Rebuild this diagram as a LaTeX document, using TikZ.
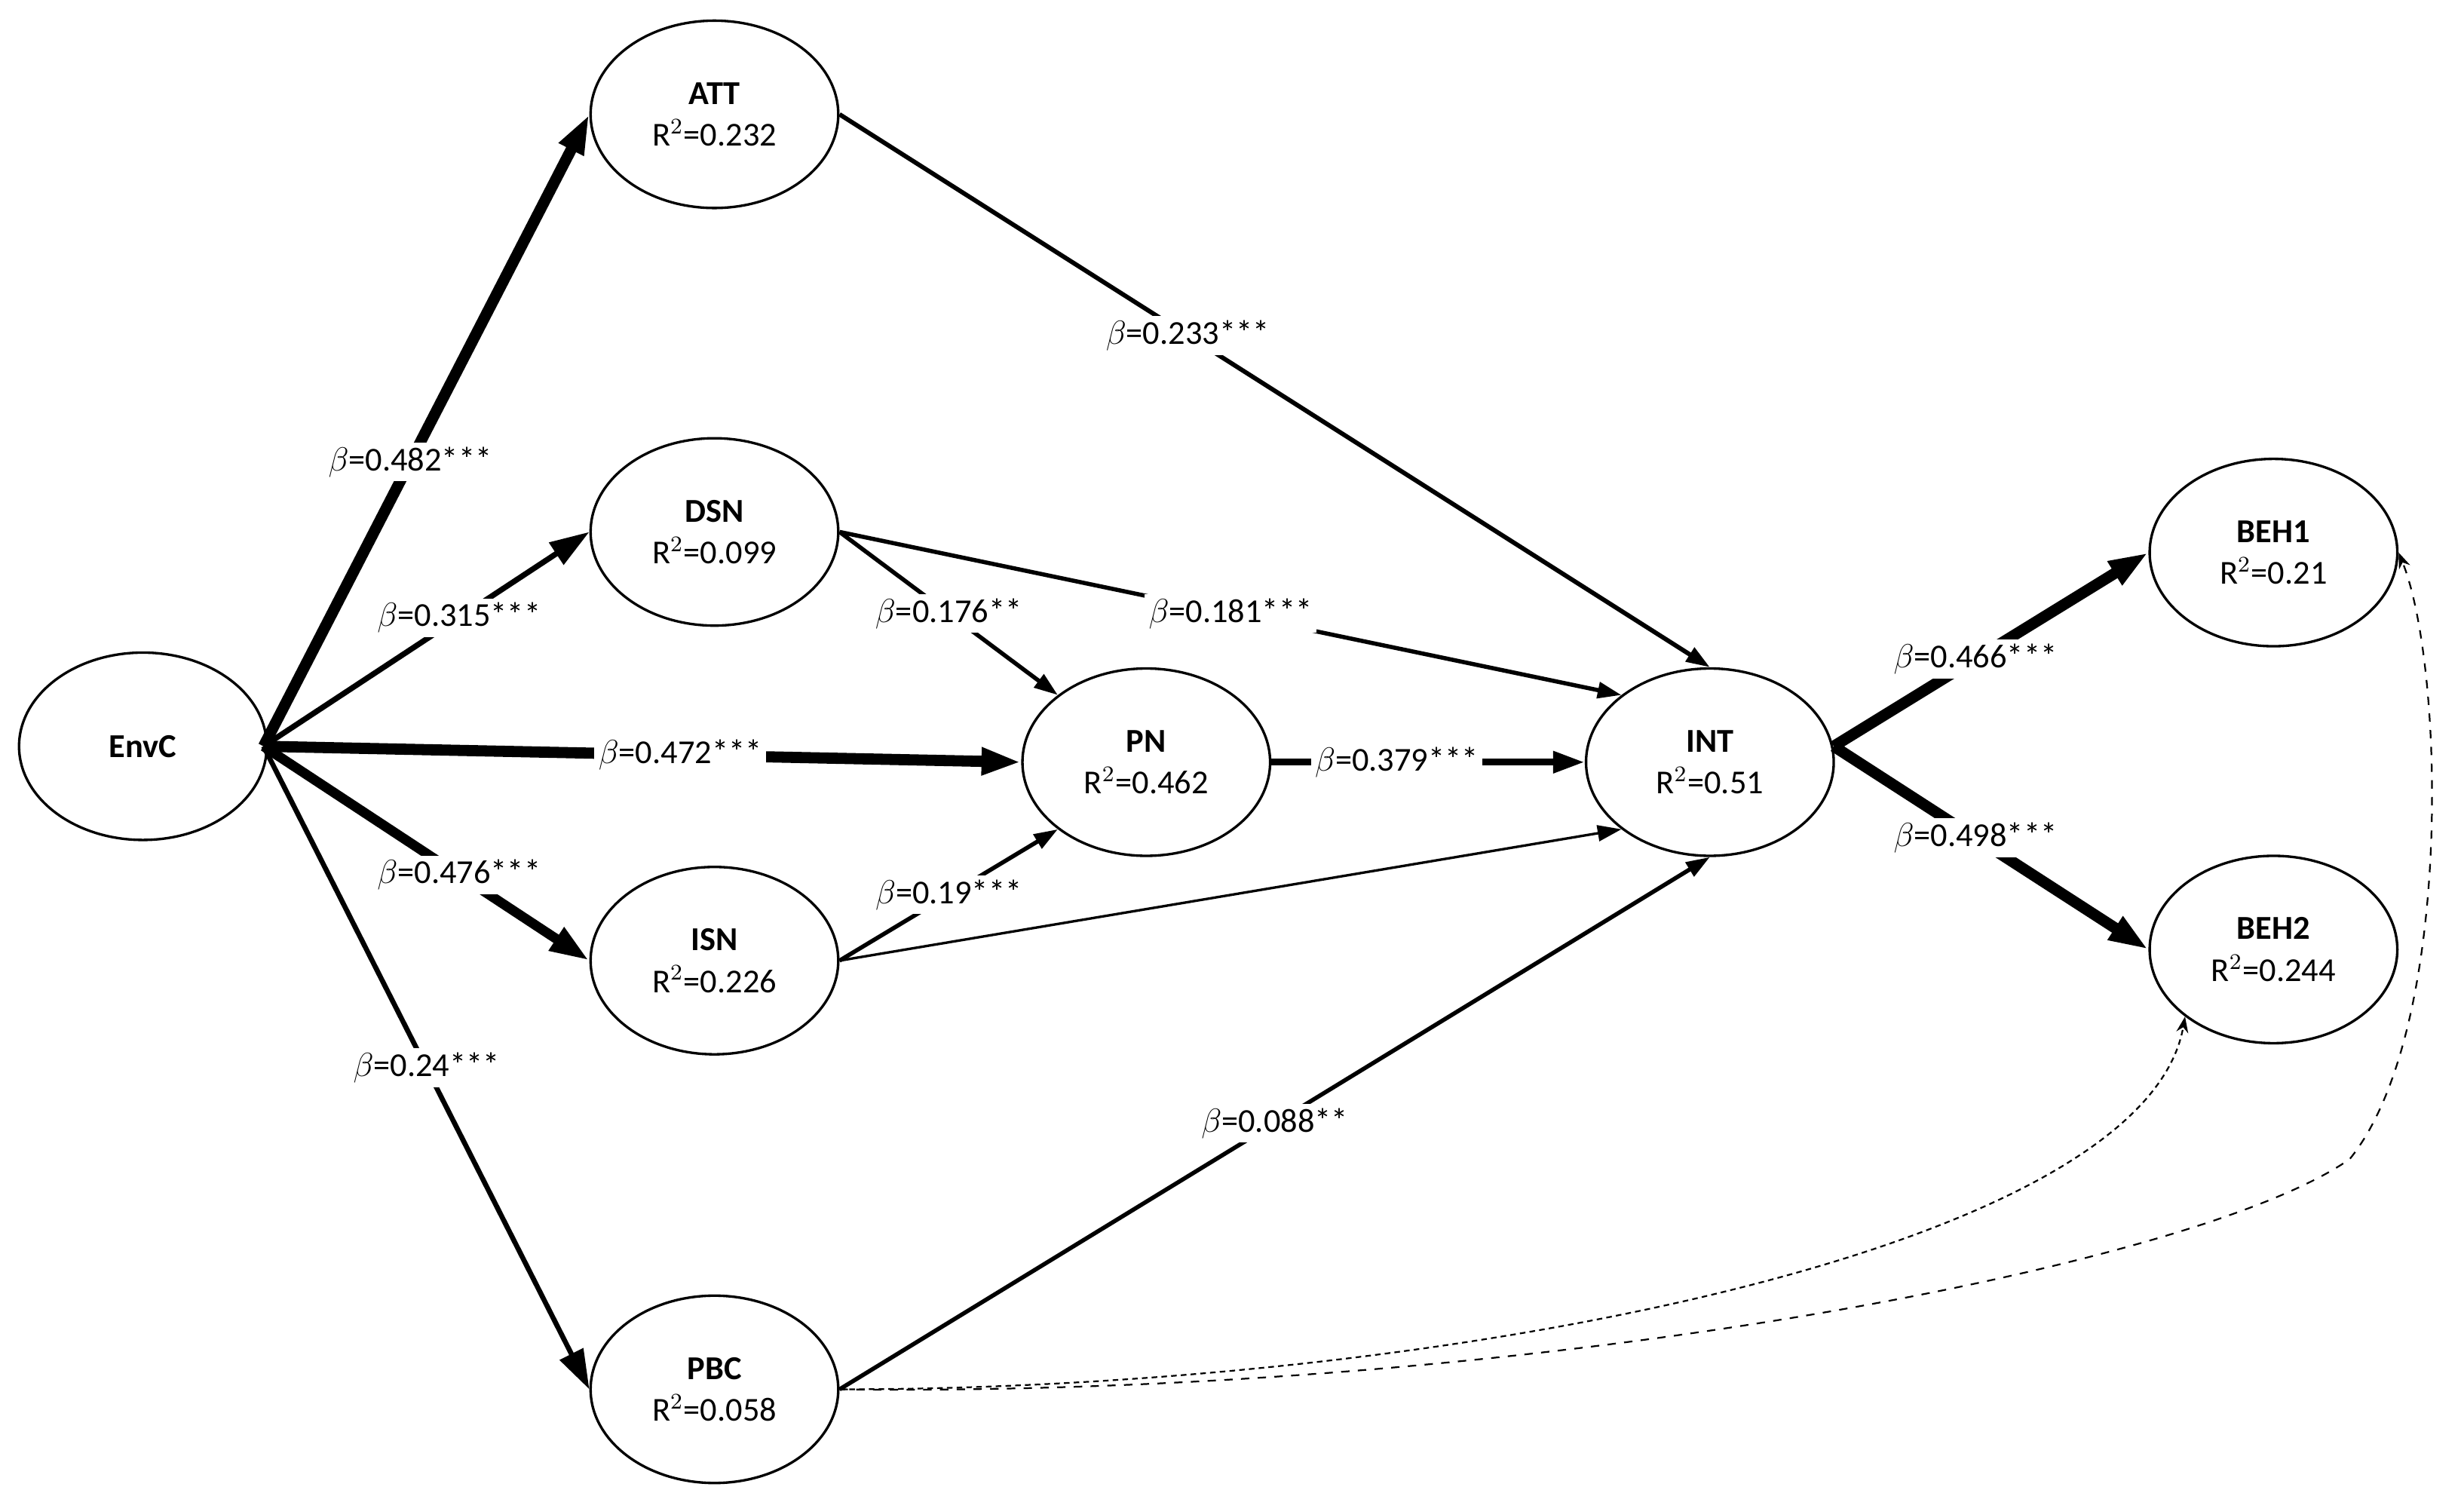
\documentclass[tikz,border=0pt]{standalone}
\usepackage{fontspec}
\setmainfont{Carlito}
\usetikzlibrary{arrows.meta,shapes.geometric}
\begin{document}
\begin{tikzpicture}[x=0.02cm,y=-0.02cm,
  lv/.style={draw,ellipse,line width=0.9pt,minimum width=156*0.02cm,minimum height=118*0.02cm,align=center,font=\fontsize{12}{15}\selectfont,inner sep=0pt},
  pth/.style={draw,-{Triangle[length=5mm,width=3.2mm]}},
  lb/.style={fill=white,inner sep=1.5pt,font=\fontsize{12}{14}\selectfont},
  dsh/.style={draw,dashed,line width=0.6pt,-{Stealth[length=2mm]}}]
\useasboundingbox (0,0) rectangle (1552,938);
\node[lv] (EnvC) at (90,470) {\textbf{EnvC}};
\node[lv] (ATT) at (450,72) {\textbf{ATT}\\R$^2$=0.232};
\node[lv] (DSN) at (450,335) {\textbf{DSN}\\R$^2$=0.099};
\node[lv] (PN) at (722,480) {\textbf{PN}\\R$^2$=0.462};
\node[lv] (ISN) at (450,605) {\textbf{ISN}\\R$^2$=0.226};
\node[lv] (PBC) at (450,875) {\textbf{PBC}\\R$^2$=0.058};
\node[lv] (INT) at (1077,480) {\textbf{INT}\\R$^2$=0.51};
\node[lv] (BEH1) at (1432,348) {\textbf{BEH1}\\R$^2$=0.21};
\node[lv] (BEH2) at (1432,598) {\textbf{BEH2}\\R$^2$=0.244};
\coordinate (s) at (166,470);
\draw[pth,line width=4pt] (s) -- (ATT.west) node[lb,pos=0.45] {$\beta$=0.482***};
\draw[pth,line width=2pt] (s) -- (DSN.west) node[lb,pos=0.6] {$\beta$=0.315***};
\draw[pth,line width=4pt] (s) -- (PN.west) node[lb,pos=0.55] {$\beta$=0.472***};
\draw[pth,line width=3.5pt] (s) -- (ISN.west) node[lb,pos=0.6] {$\beta$=0.476***};
\draw[pth,line width=1.8pt] (s) -- (PBC.west) node[lb,pos=0.5] {$\beta$=0.24***};
\draw[pth,line width=1.6pt,-{Triangle[length=3mm,width=2mm]}] (ATT.east) -- (INT.north) node[lb,pos=0.4] {$\beta$=0.233***};
\draw[pth,line width=1.5pt,-{Triangle[length=3mm,width=2mm]}] (DSN.east) -- (INT.north west) node[lb,pos=0.5] {$\beta$=0.181***};
\draw[pth,line width=1.5pt,-{Triangle[length=3mm,width=2mm]}] (DSN.east) -- (PN.north west) node[lb,pos=0.5] {$\beta$=0.176**};
\draw[pth,line width=1.5pt,-{Triangle[length=3mm,width=2mm]}] (ISN.east) -- (PN.south west) node[lb,pos=0.5] {$\beta$=0.19***};
\draw[pth,line width=0.9pt,-{Triangle[length=3mm,width=2mm]}] (ISN.east) -- (INT.south west);
\draw[pth,line width=2.5pt,-{Triangle[length=4mm,width=2.6mm]}] (PN.east) -- (INT.west) node[lb,pos=0.4] {$\beta$=0.379***};
\draw[pth,line width=1.5pt,-{Triangle[length=3mm,width=2mm]}] (PBC.east) -- (INT.south) node[lb,pos=0.5] {$\beta$=0.088**};
\coordinate (t) at (1155,470);
\draw[pth,line width=4pt] (t) -- (BEH1.west) node[lb,pos=0.45] {$\beta$=0.466***};
\draw[pth,line width=4pt] (t) -- (BEH2.west) node[lb,pos=0.45] {$\beta$=0.498***};
\draw[dsh,dash pattern=on 2pt off 1.5pt] (PBC.east) .. controls (900,875) and (1350,790) .. (BEH2.south west);
\coordinate (m) at (1480,730);
\draw[dsh] (PBC.east) .. controls (950,880) and (1380,800) .. (m) .. controls (1545,650) and (1540,420) .. (BEH1.east);
\end{tikzpicture}
\end{document}
